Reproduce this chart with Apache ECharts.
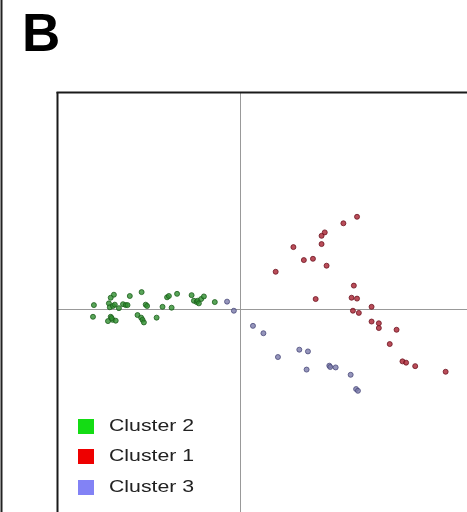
<!DOCTYPE html>
<html>
<head>
<meta charset="utf-8">
<script src="https://cdn.jsdelivr.net/npm/echarts@6/dist/echarts.min.js"></script>
<style>
html,body{margin:0;padding:0;background:#fff;}
#c{width:467px;height:512px;}
</style>
</head>
<body>
<div id="c"></div>
<script>
var panelLabel = 'B';
var seriesNames = ['Cluster 2', 'Cluster 1', 'Cluster 3'];
var legendColors = ['#14dc14', '#ee0000', '#8282f5'];
var cluster2 = [
  [-3.21,0.10],[-3.23,-0.17],[-2.84,0.27],[-2.77,0.34],[-2.88,0.14],[-2.86,0.05],[-2.79,0.08],
  [-2.75,0.11],[-2.66,0.03],[-2.57,0.12],[-2.51,0.10],[-2.47,0.10],[-2.42,0.31],[-2.84,-0.17],
  [-2.90,-0.27],[-2.80,-0.24],[-2.73,-0.26],[-2.82,-0.20],[-2.16,0.40],[-2.07,0.11],[-2.04,0.08],
  [-2.25,-0.13],[-2.17,-0.19],[-2.14,-0.24],[-2.11,-0.30],[-1.83,-0.19],[-1.70,0.06],[-1.60,0.28],
  [-1.56,0.31],[-1.50,0.04],[-1.38,0.36],[-1.06,0.33],[-1.01,0.20],[-0.95,0.17],[-0.93,0.20],
  [-0.90,0.14],[-0.85,0.24],[-0.79,0.30],[-0.55,0.17]
];
var cluster1 = [
  [2.58,2.14],[2.28,1.99],[1.87,1.78],[1.80,1.70],[1.80,1.51],[1.18,1.44],[1.41,1.14],[1.61,1.17],
  [1.91,1.01],[0.79,0.87],[2.51,0.55],[1.67,0.24],[2.46,0.27],[2.58,0.25],[2.90,0.06],[2.49,-0.03],
  [2.62,-0.08],[2.90,-0.28],[3.06,-0.32],[3.06,-0.43],[3.45,-0.47],[3.30,-0.80],[3.58,-1.20],
  [3.66,-1.23],[3.86,-1.31],[4.53,-1.44]
];
var cluster3 = [
  [-0.28,0.18],[-0.13,-0.03],[0.29,-0.38],[0.52,-0.55],[0.84,-1.10],[1.31,-0.93],[1.50,-0.97],
  [1.47,-1.39],[1.97,-1.30],[1.99,-1.33],[2.11,-1.34],[2.44,-1.51],[2.56,-1.84],[2.60,-1.88]
];
var xRange = [-4, 5];
var yRange = [-4.68, 5];

var chart = echarts.init(document.getElementById('c'), null, {renderer:'canvas'});
var font = '"Liberation Sans", Arial, sans-serif';
function sc(name, data, fill, rim){
  return {name:name, type:'scatter', data:data, symbol:'circle', symbolSize:5,
    itemStyle:{color:fill, borderColor:rim, borderWidth:1}, z:3, animation:false};
}
var gl = 58, gt = 93;
var graphics = [
  {type:'line', shape:{x1:1.5,y1:0,x2:1.5,y2:512}, style:{stroke:'#222', lineWidth:2}, z:10},
  {type:'line', shape:{x1:gl-0.5,y1:gt-1,x2:gl-0.5,y2:512}, style:{stroke:'#1a1a1a', lineWidth:2}, z:10},
  {type:'line', shape:{x1:gl-1.5,y1:gt-0.5,x2:467,y2:gt-0.5}, style:{stroke:'#1a1a1a', lineWidth:2}, z:10},
  {type:'text', left:22, top:10, style:{text:panelLabel, font:'bold 53px '+font, fill:'#000'}}
];
var legendY = [419, 449, 480];
seriesNames.forEach(function(n, i){
  graphics.push({type:'rect', shape:{x:78, y:legendY[i], width:16, height:15}, style:{fill:legendColors[i]}, z:10});
  graphics.push({type:'text', x:109, y:legendY[i]+7.5, scaleX:1.25, originX:0, originY:0,
    style:{x:0, y:0, text:n, font:'17px '+font, fill:'#222', verticalAlign:'middle'}, z:10});
});
chart.setOption({
  animation:false,
  backgroundColor:'#fff',
  graphic:graphics,
  grid:{left:gl, top:gt, right:0, bottom:0, show:false},
  xAxis:{type:'value', min:xRange[0], max:xRange[1], axisLine:{onZero:true, lineStyle:{color:'#999', width:1}},
    axisTick:{show:false}, axisLabel:{show:false}, splitLine:{show:false}},
  yAxis:{type:'value', min:yRange[0], max:yRange[1], axisLine:{onZero:true, lineStyle:{color:'#999', width:1}},
    axisTick:{show:false}, axisLabel:{show:false}, splitLine:{show:false}},
  series:[
    sc(seriesNames[0], cluster2, '#2f8f2f', '#1b5e1b'),
    sc(seriesNames[1], cluster1, '#a82030', '#6e1420'),
    sc(seriesNames[2], cluster3, '#7a7aaa', '#4a4a7a')
  ]
});
</script>
</body>
</html>
